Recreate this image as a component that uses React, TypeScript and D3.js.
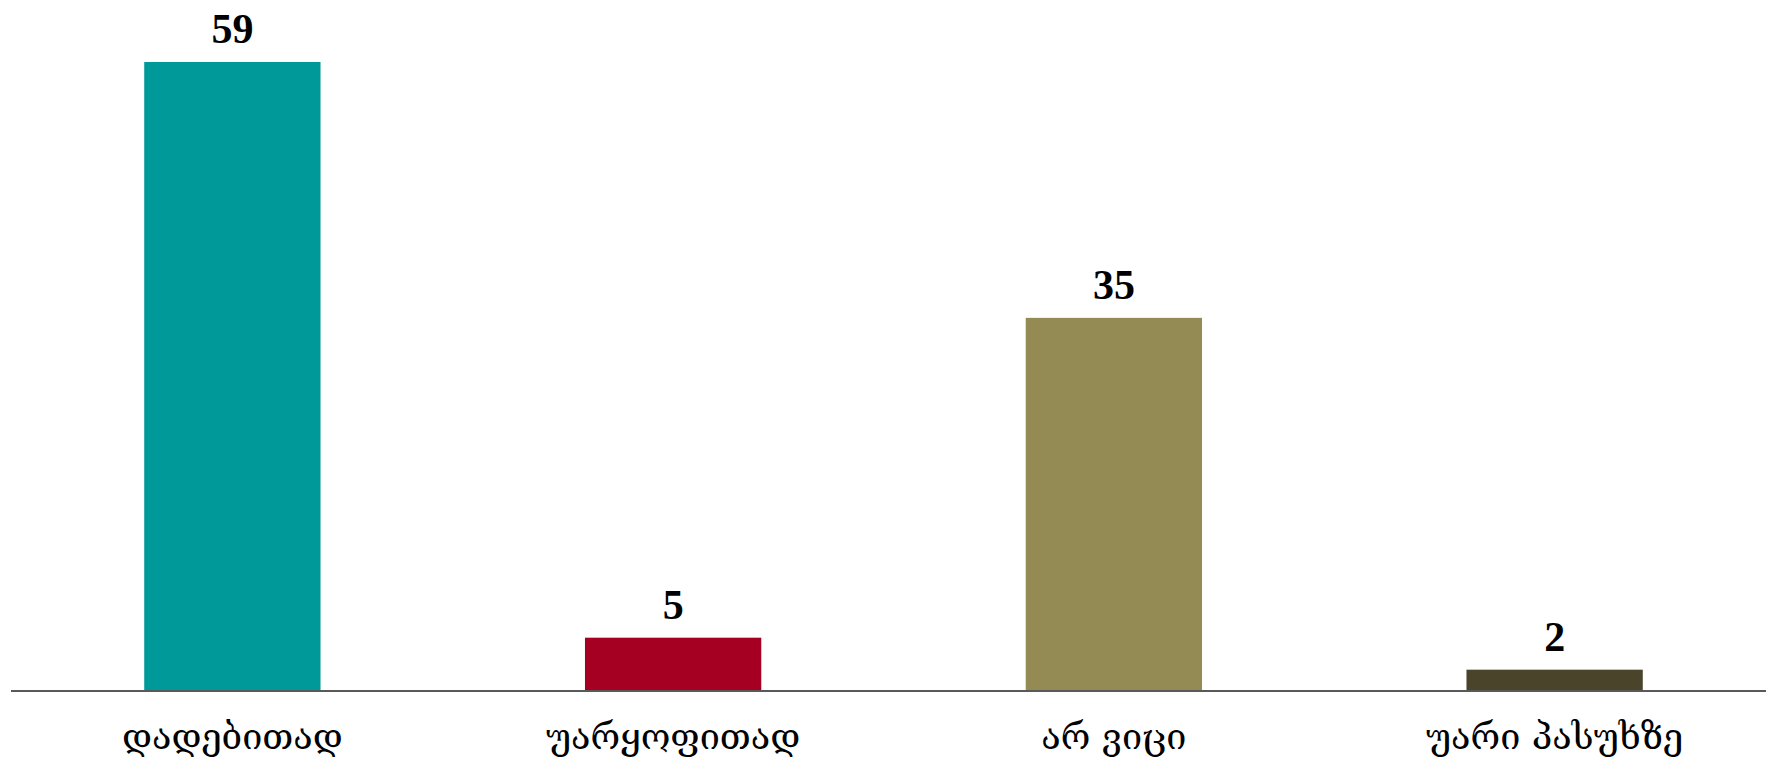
import * as d3 from "d3";

const categories = ["დადებითად", "უარყოფითად", "არ ვიცი", "უარი პასუხზე"];
const values = [59, 5, 35, 2];
const colors = ["#009999", "#A50021", "#948A54", "#4A452A"];

const width = 1766;
const height = 762;
const baseline = 691;

export default function App() {
  const x = d3
    .scaleBand<string>()
    .domain(categories)
    .range([12, 1775])
    .paddingInner(0.6)
    .paddingOuter(0.3);

  const y = d3.scaleLinear().domain([0, 59]).range([baseline, 62]);

  return (
    <svg
      width={width}
      height={height}
      style={{ position: "absolute", left: 0, top: 0, background: "#fff" }}
    >
      {categories.map((c, i) => (
        <g key={c}>
          <rect
            x={x(c)}
            y={y(values[i])}
            width={x.bandwidth()}
            height={baseline - y(values[i])}
            fill={colors[i]}
          />
          <text
            x={x(c)! + x.bandwidth() / 2}
            y={y(values[i]) - 19}
            textAnchor="middle"
            fontFamily="'Liberation Serif', serif"
            fontWeight="bold"
            fontSize={42}
            fill="#000"
          >
            {values[i]}
          </text>
          <text
            x={x(c)! + x.bandwidth() / 2}
            y={749}
            textAnchor="middle"
            fontFamily="'DejaVu Serif', serif"
            fontSize={36}
            fill="#000"
          >
            {c}
          </text>
        </g>
      ))}
      <line x1={11} x2={width} y1={baseline} y2={baseline} stroke="#595959" strokeWidth={2} />
    </svg>
  );
}
